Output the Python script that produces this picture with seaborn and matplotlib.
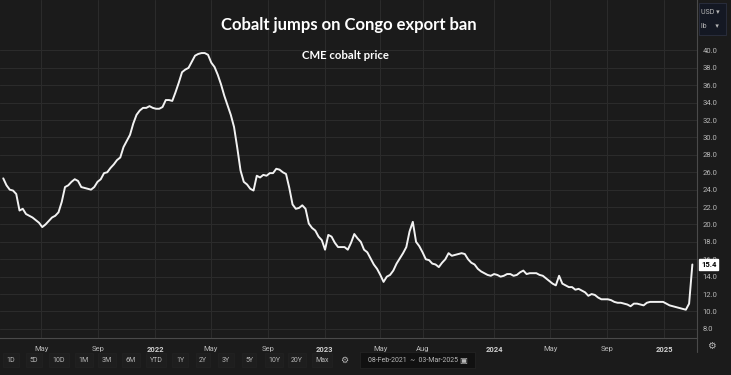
import pandas as pd
import seaborn as sns
import matplotlib.pyplot as plt
from matplotlib.lines import Line2D
from matplotlib.patches import Rectangle

# Weekly CME cobalt price, USD/lb
start_date = "2021-02-08"
end_date = "2025-03-03"
prices_2021 = [
    25.3, 24.5, 24.0, 23.9, 23.5, 21.6, 21.8, 21.2, 21.0, 20.8, 20.5, 20.2,
    19.7, 20.0, 20.4, 20.8, 21.0, 21.4, 22.6, 24.3, 24.5, 24.9, 25.2, 25.0,
    24.3, 24.2, 24.1, 24.0, 24.3, 24.9, 25.2, 25.9, 26.0, 26.5, 26.9, 27.4,
    27.7, 28.9, 29.6, 30.3, 31.6, 32.6, 33.1, 33.4, 33.4, 33.6, 33.4,
]
prices_2022 = [
    33.3, 33.3, 33.5, 34.3, 34.3, 34.2, 35.2, 36.3, 37.5, 37.8, 38.0, 38.7,
    39.4, 39.6, 39.7, 39.7, 39.5, 38.6, 38.1, 37.2, 36.1, 34.8, 33.7, 32.6,
    31.2, 28.8, 26.2, 24.9, 24.6, 24.1, 23.9, 25.6, 25.4, 25.7, 25.6, 25.9,
    25.9, 26.4, 26.3, 26.0, 25.8, 24.2, 22.3, 21.8, 21.9, 22.2, 21.8, 20.1,
    19.6, 19.3, 18.6, 18.2,
]
prices_2023 = [
    17.1, 18.8, 18.6, 17.9, 17.4, 17.4, 17.4, 17.1, 17.9, 18.9, 18.4, 18.0,
    17.1, 16.8, 16.1, 15.4, 14.9, 14.2, 13.4, 14.0, 14.2, 14.7, 15.5, 16.1,
    16.7, 17.4, 19.2, 20.3, 18.0, 17.5, 16.8, 16.0, 15.9, 15.5, 15.4, 15.1,
    15.6, 16.0, 16.7, 16.4, 16.5, 16.6, 16.7, 16.6, 16.0, 15.6, 15.4, 14.9,
    14.6, 14.4, 14.2, 14.1,
]
prices_2024 = [
    14.3, 14.2, 14.0, 14.1, 14.3, 14.3, 14.1, 14.2, 14.5, 14.7, 14.3, 14.4,
    14.4, 14.4, 14.2, 14.1, 13.8, 13.5, 13.2, 13.0, 14.1, 13.2, 13.0, 12.8,
    12.8, 12.5, 12.6, 12.4, 12.2, 11.8, 12.0, 11.9, 11.6, 11.4, 11.4, 11.4,
    11.3, 11.1, 11.0, 11.0, 10.9, 10.8, 10.6, 10.9, 10.9, 10.8, 10.7, 11.0,
    11.1, 11.1, 11.1, 11.1, 11.1,
]
prices_2025 = [10.9, 10.7, 10.6, 10.5, 10.4, 10.3, 10.2, 10.9, 15.4]

tick_dates = ["2021-05-01", "2021-09-01", "2022-01-01", "2022-05-01", "2022-09-01",
              "2023-01-01", "2023-05-01", "2023-08-01", "2024-01-01", "2024-05-01",
              "2024-09-01", "2025-01-01"]
tick_labels = ["May", "Sep", "2022", "May", "Sep", "2023", "May", "Aug", "2024",
               "May", "Sep", "2025"]
y_ticks = list(range(8, 42, 2))
range_buttons = ["1D", "5D", "10D", "1M", "3M", "6M", "YTD", "1Y", "2Y", "3Y",
                 "5Y", "10Y", "20Y", "Max"]

prices = prices_2021 + prices_2022 + prices_2023 + prices_2024 + prices_2025
df = pd.DataFrame({"date": pd.date_range(start_date, end_date, freq="7D"),
                   "price": prices})

bg = "#1b1b1b"
grid_col = "#2b2b2b"
text_col = "#b8b8b8"

sns.set_theme(style="dark", rc={"axes.facecolor": bg, "figure.facecolor": bg})
plt.rcParams["font.family"] = ["Roboto", "DejaVu Sans"]

fig = plt.figure(figsize=(7.31, 3.75), dpi=100)
ax = fig.add_axes([0, 1 - 338 / 375, 697 / 731, 338 / 375])

sns.lineplot(data=df, x="date", y="price", ax=ax, color="#f2f2f2", linewidth=1.4)

ax.set_xlim(pd.Timestamp("2021-02-01"), pd.Timestamp("2025-03-13"))
ax.set_ylim(6.95, 45.8)
ax.set_xticks(pd.to_datetime(tick_dates))
ax.set_xticklabels(tick_labels)
ax.set_yticks(y_ticks)
ax.set_yticklabels([f"{v:.1f}" for v in y_ticks])
ax.yaxis.tick_right()
ax.set_xlabel("")
ax.set_ylabel("")
ax.grid(True, color=grid_col, linewidth=0.8)
ax.tick_params(axis="both", length=0, colors=text_col, labelsize=5.5)
ax.tick_params(axis="x", pad=6)
ax.tick_params(axis="y", pad=4)
for lab in ax.get_xticklabels():
    if lab.get_text().isdigit():
        lab.set_fontweight("bold")
        lab.set_color("#d0d0d0")
for side in ["top", "left"]:
    ax.spines[side].set_visible(False)
for side in ["right", "bottom"]:
    ax.spines[side].set_color("#4a4a4a")
    ax.spines[side].set_linewidth(0.8)

# separator of the price scale, continued below the axes
fig.add_artist(Line2D([697 / 731, 697 / 731], [1 - 338 / 375, 1 - 352 / 375],
                      color="#4a4a4a", linewidth=0.8))

ax.text(0.5, 0.925, "Cobalt jumps on Congo export ban", transform=ax.transAxes,
        ha="center", va="center", color="white", fontsize=12, family="Lato",
        fontweight="bold")
ax.text(0.495, 0.835, "CME cobalt price", transform=ax.transAxes,
        ha="center", va="center", color="white", fontsize=8.2, family="Lato",
        fontweight="bold")

# currency / unit selector
fig.add_artist(Rectangle((699 / 731, 1 - 35 / 375), 27 / 731, 32 / 375,
                         transform=fig.transFigure, facecolor="#141823",
                         edgecolor="#2c3040", linewidth=0.6))
fig.text(701 / 731, 1 - 12 / 375, "USD ▾", color=text_col, fontsize=5,
         va="center", ha="left")
fig.text(701 / 731, 1 - 26 / 375, "lb     ▾", color=text_col, fontsize=5,
         va="center", ha="left")

# last price marker (covers the 16.0 label as in the original)
last = df["price"].iloc[-1]
ax.annotate(f"{last:.1f}", xy=(1, last), xycoords=("axes fraction", "data"),
            xytext=(3, 0), textcoords="offset points", ha="left", va="center",
            fontsize=5.5, color="black", fontweight="bold",
            bbox=dict(boxstyle="square,pad=0.25", facecolor="white",
                      edgecolor="white"), zorder=10)

fig.text(711 / 731, 1 - 346 / 375, "⚙", color=text_col, fontsize=7,
         ha="center", va="center", family="DejaVu Sans")

# range buttons toolbar
button_x = [11, 34, 59, 84, 107, 131, 156, 180, 203, 226, 249, 274, 297, 322]
for bx, label in zip(button_x, range_buttons):
    fig.text(bx / 731, 1 - 360 / 375, label, color=text_col, fontsize=5,
             ha="center", va="center",
             bbox=dict(boxstyle="square,pad=0.5", facecolor="#1e1e1e",
                       edgecolor="#222222", linewidth=0.5))
fig.text(344 / 731, 1 - 360 / 375, "⚙", color=text_col, fontsize=6.5,
         ha="center", va="center", family="DejaVu Sans")
fig.add_artist(Rectangle((360 / 731, 1 - 368 / 375), 115 / 731, 16 / 375,
                         transform=fig.transFigure, facecolor="#111111",
                         edgecolor="#262626", linewidth=0.5))
fig.text(368 / 731, 1 - 360 / 375, "08-Feb-2021  ~  03-Mar-2025", color=text_col,
         fontsize=5, ha="left", va="center")
fig.text(463 / 731, 1 - 360 / 375, "▣", color=text_col, fontsize=6,
         ha="center", va="center", family="DejaVu Sans")

fig.savefig("out.png", dpi=100, facecolor=bg)
